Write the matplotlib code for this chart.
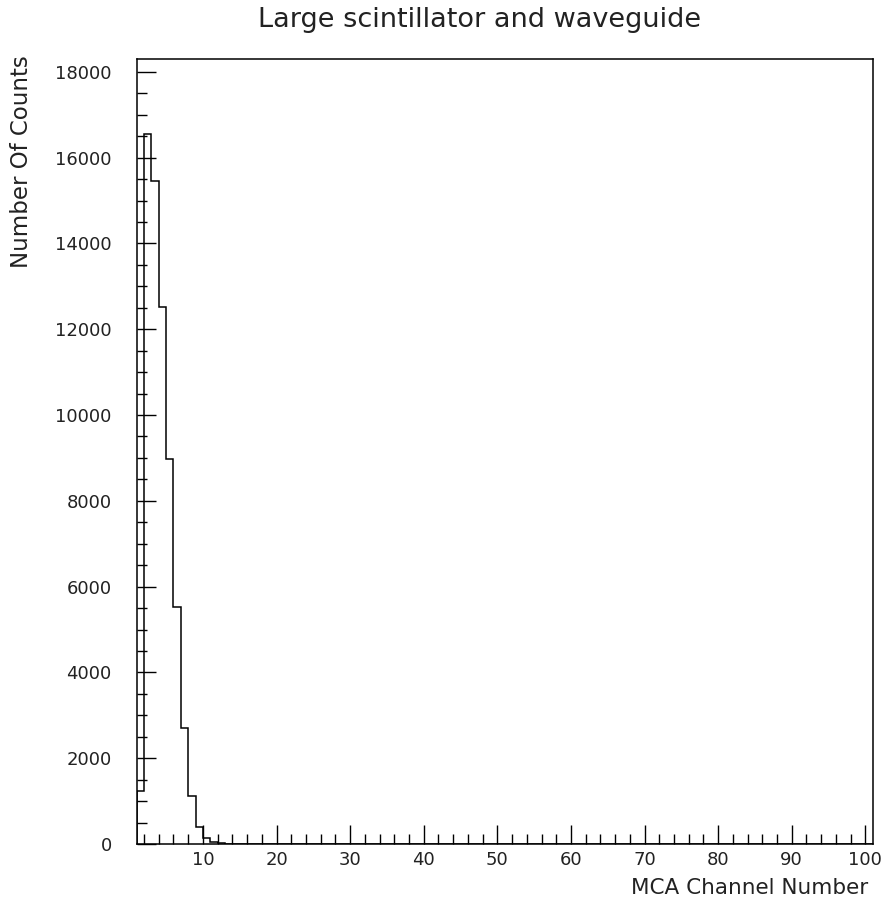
import numpy as np
import matplotlib
matplotlib.use("Agg")
import matplotlib.pyplot as plt
from matplotlib.ticker import MultipleLocator

# MCA channels 1..100, counts (channels past 13 are empty)
low_counts = [1230, 16550, 15460, 12520, 8970, 5520, 2700, 1110, 390, 140, 35, 12, 4]
counts = np.array(low_counts + [0] * (100 - len(low_counts)))
edges = np.arange(1, 102)

plt.rcParams['font.family'] = ['DejaVu Sans']
plt.rcParams['text.color'] = '#222222'
plt.rcParams['xtick.labelcolor'] = '#222222'
plt.rcParams['ytick.labelcolor'] = '#222222'

fig = plt.figure(figsize=(8.91, 9.06), dpi=100)
ax = fig.add_axes([136.7 / 891, 1 - 844 / 906, 736 / 891, (844 - 59) / 906])

ax.stairs(counts, edges, color='black', lw=1.1, baseline=0)

ax.set_xlim(1, 101)
ax.set_ylim(0, 18300)

ax.xaxis.set_major_locator(MultipleLocator(10))
ax.xaxis.set_minor_locator(MultipleLocator(2))
ax.yaxis.set_major_locator(MultipleLocator(2000))
ax.yaxis.set_minor_locator(MultipleLocator(500))
ax.tick_params(which='both', direction='in', top=False, right=False, width=1.0, labelsize=13)
ax.tick_params(axis='x', which='major', length=14, pad=5)
ax.tick_params(axis='x', which='minor', length=7)
ax.tick_params(axis='y', which='major', length=14, pad=18)
ax.tick_params(axis='y', which='minor', length=7)
for s in ax.spines.values():
    s.set_linewidth(1.1)

fig.text(480 / 891, 1 - 20 / 906, 'Large scintillator and waveguide', ha='center', va='center', fontsize=19.5)
fig.text(868 / 891, 1 - 888 / 906, 'MCA Channel Number', ha='right', va='center', fontsize=15.5)
fig.text(22 / 891, 1 - 55 / 906, 'Number Of Counts', ha='center', va='top', rotation=90, fontsize=16.5)

fig.savefig('out.png', dpi=100)
